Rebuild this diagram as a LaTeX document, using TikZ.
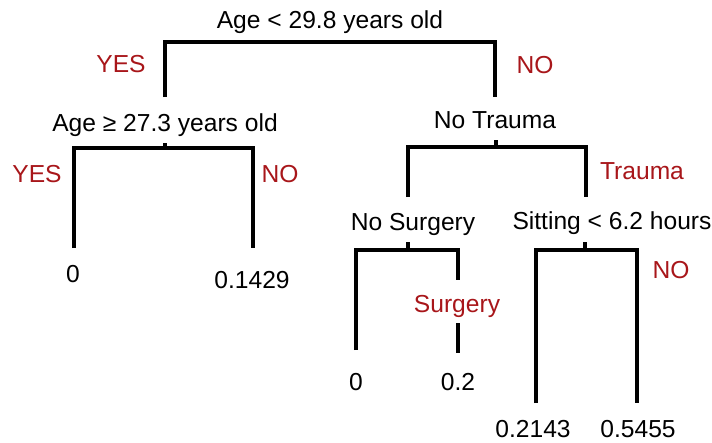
\documentclass[tikz,border=0pt]{standalone}
\usepackage{fontspec}
\setmainfont{Liberation Sans}
\definecolor{myred}{RGB}{168,22,26}
\tikzset{
  lbl/.style={font=\fontsize{24.6}{28}\selectfont, inner sep=0pt, anchor=base},
  brl/.style={lbl, text=myred},
  edge/.style={line width=3.6pt, line join=miter, line cap=butt}
}
\begin{document}
\begin{tikzpicture}[x=1pt,y=-1pt]
\useasboundingbox (0,0) rectangle (712,442);
% questions
\node[lbl] (q1) at (330,28) {Age < 29.8 years old};
\node[lbl] (q2) at (165,131) {Age ≥ 27.3 years old};
\node[lbl] (q3) at (495,128) {No Trauma};
\node[lbl] (q4) at (413,230) {No Surgery};
\node[lbl] (q5) at (612,229) {Sitting < 6.2 hours};
% leaves
\node[lbl] (l1) at (73,282) {0};
\node[lbl] (l2) at (252,288) {0.1429};
\node[lbl] (l3) at (356,390) {0};
\node[lbl] (l4) at (458,390) {0.2};
\node[lbl] (l5) at (533,437) {0.2143};
\node[lbl] (l6) at (638,437) {0.5455};
% branch labels
\node[brl] (y1) at (121,72) {YES};
\node[brl] (n1) at (535,73) {NO};
\node[brl] (y2) at (37,182) {YES};
\node[brl] (n2) at (280,182) {NO};
\node[brl] (t3) at (642,179) {Trauma};
\node[brl] (s4) at (457,312) {Surgery};
\node[brl] (n5) at (671,278) {NO};
% coordinates
\coordinate (b1) at (330,42);
\coordinate (e1l) at (165,97);
\coordinate (e1r) at (495,97);
\coordinate (s2) at (165,143);
\coordinate (b2) at (165,148);
\coordinate (e2l) at (74,248);
\coordinate (e2r) at (253,248);
\coordinate (s3) at (496,140);
\coordinate (b3) at (496,147);
\coordinate (e3l) at (408,197);
\coordinate (e3r) at (586,197);
\coordinate (s4t) at (408,242);
\coordinate (b4) at (408,250);
\coordinate (e4l) at (356,350);
\coordinate (e4r) at (458,280);
\coordinate (e4a) at (458,323);
\coordinate (e4b) at (458,353);
\coordinate (s5) at (585,242);
\coordinate (b5) at (585,250);
\coordinate (e5l) at (536,403);
\coordinate (e5r) at (637,403);
% connectors
\draw[edge] (e1l) |- (b1) -| (e1r);
\draw[edge] (s2) -- (b2);
\draw[edge] (e2l) |- (b2) -| (e2r);
\draw[edge] (s3) -- (b3);
\draw[edge] (e3l) |- (b3) -| (e3r);
\draw[edge] (s4t) -- (b4);
\draw[edge] (e4l) |- (b4) -| (e4r);
\draw[edge] (e4a) -- (e4b);
\draw[edge] (s5) -- (b5);
\draw[edge] (e5l) |- (b5) -| (e5r);
\end{tikzpicture}
\end{document}
